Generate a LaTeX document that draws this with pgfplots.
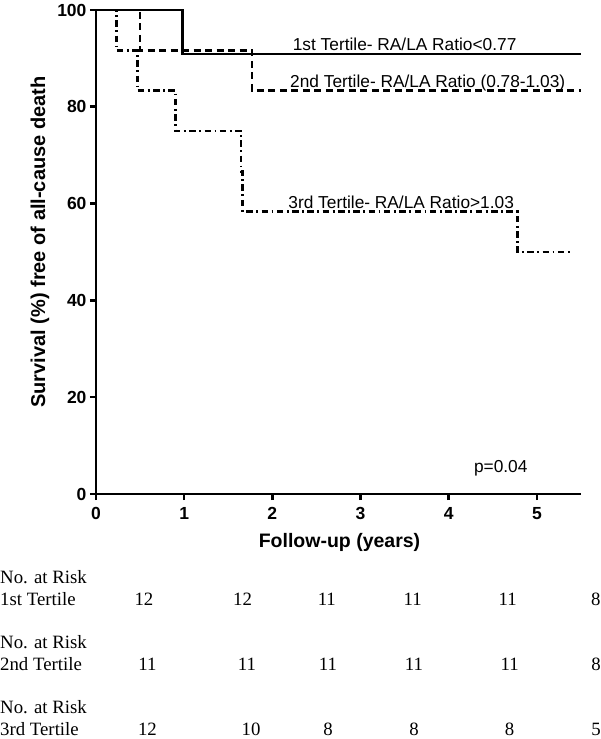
\documentclass[border=0pt]{standalone}
\usepackage{pgfplots}
\pgfplotsset{compat=1.18}
\usepackage{fontspec}
\setmainfont{Liberation Serif}
\newfontfamily\arial{Liberation Sans}
\begin{document}
\begin{tikzpicture}[x=1pt,y=1pt]
\path[use as bounding box] (-96,-245) rectangle (504,494);
\begin{axis}[at={(0,0)}, anchor=south west, scale only axis,
  width=485pt, height=484pt,
  xmin=0, xmax=5.5, ymin=0, ymax=100,
  axis lines*=left,
  axis line style={line width=2.6pt},
  xtick={0,1,2,3,4,5}, ytick={0,20,40,60,80,100},
  tick align=outside, major tick length=6pt,
  tick style={line width=2.6pt, black},
  ticklabel style={font=\arial\bfseries\fontsize{17.5}{17.5}\selectfont},
  xticklabel style={yshift=-4pt},
  /pgf/number format/assume math mode=true,
  clip=false]
\addplot[const plot, line width=2.7pt, dash pattern=on 6.5pt off 3.5pt on 1.8pt off 3.5pt]
  coordinates {(0,100) (0.23,91.67) (0.47,83.33) (0.90,75) (1.645,66.67) (1.665,58.33) (4.78,50) (5.41,50)};
\addplot[const plot, line width=2.7pt, dash pattern=on 7pt off 4.5pt]
  coordinates {(0,100) (0.50,91.67) (1.77,83.33) (5.5,83.33)};
\addplot[const plot, line width=2.7pt]
  coordinates {(0,100) (0.98,90.91) (5.5,90.91)};
\node[anchor=base west, inner sep=0pt, font=\arial\fontsize{17.3}{17.3}\selectfont] at (axis cs:2.23,91.6) {1st Tertile- RA/LA Ratio<0.77};
\node[anchor=base west, inner sep=0pt, font=\arial\fontsize{17.3}{17.3}\selectfont] at (axis cs:2.20,84.0) {2nd Tertile- RA/LA Ratio (0.78-1.03)};
\node[anchor=base west, inner sep=0pt, font=\arial\fontsize{17.3}{17.3}\selectfont] at (axis cs:2.18,59.0) {3rd Tertile- RA/LA Ratio>1.03};
\node[font=\arial\fontsize{17.3}{17.3}\selectfont] at (axis cs:4.59,5.4) {p=0.04};
\end{axis}
\node[rotate=90, font=\arial\bfseries\fontsize{20}{20}\selectfont] at (-56,252) {Survival (\%) free of all-cause death};
\node[font=\arial\bfseries\fontsize{19.5}{19.5}\selectfont] at (243.5,-48) {Follow-up (years)};
\begin{scope}[every node/.style={font=\fontsize{18.8}{18.8}\selectfont, inner sep=0pt}]
\node[anchor=west] at (-96,-83) {No. at Risk};
\node[anchor=west] at (-96,-105) {1st Tertile};
\node[anchor=west] at (-96,-148) {No. at Risk};
\node[anchor=west] at (-96,-170) {2nd Tertile};
\node[anchor=west] at (-96,-213) {No. at Risk};
\node[anchor=west] at (-96,-235) {3rd Tertile};
\node at (48,-105) {12};
\node at (146.5,-105) {12};
\node at (230.8,-105) {11};
\node at (316.6,-105) {11};
\node at (411.7,-105) {11};
\node at (499.8,-105) {8};
\node at (51.5,-170) {11};
\node at (151,-170) {11};
\node at (232,-170) {11};
\node at (318,-170) {11};
\node at (413.6,-170) {11};
\node at (500,-170) {8};
\node at (51.5,-235) {12};
\node at (155,-235) {10};
\node at (232,-235) {8};
\node at (318,-235) {8};
\node at (413.6,-235) {8};
\node at (500,-235) {5};
\end{scope}
\end{tikzpicture}
\end{document}
